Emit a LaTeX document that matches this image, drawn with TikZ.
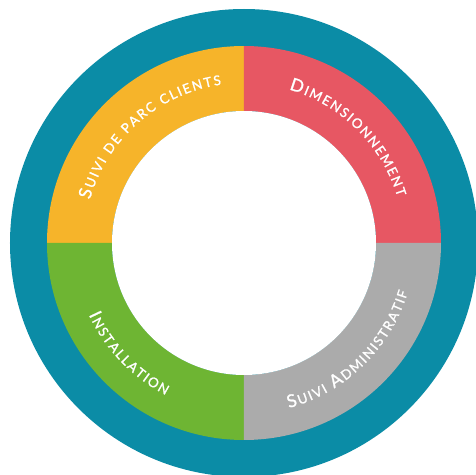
\documentclass[tikz,border=0pt]{standalone}
\usepackage{fontspec}
\newfontfamily\labelfont[FakeBold=1.2]{Lato}
\usetikzlibrary{decorations.text}

\definecolor{ringteal}{HTML}{0B8CA6}
\definecolor{suiviyellow}{HTML}{F6B42A}
\definecolor{dimred}{HTML}{E75763}
\definecolor{admingrey}{HTML}{ABABAB}
\definecolor{installgreen}{HTML}{6EB533}

\newcommand{\bigletter}{\labelfont\fontsize{12.5}{14}\selectfont\kern1.2pt}
\newcommand{\smallletters}{\labelfont\fontsize{9.5}{11}\selectfont\kern1.2pt}

\tikzset{
  arclabel/.style={decorate,decoration={text along path,text align=center,
    text color=white,text={#1}}}
}

\begin{document}
\begin{tikzpicture}[x=0.025cm,y=0.025cm]
  \useasboundingbox (-244,-232) rectangle (232,243);
  \clip (-244,-232) rectangle (232,243);
% Outer ring
  \fill[ringteal] (0,0) circle (234);
% Quarters
  \fill[suiviyellow] (90:197) arc (90:180:197) -- (180:132) arc (180:90:132) -- cycle;
  \fill[dimred] (0:197) arc (0:90:197) -- (90:132) arc (90:0:132) -- cycle;
  \fill[installgreen] (180:197) arc (180:270:197) -- (270:132) arc (270:180:132) -- cycle;
  \fill[admingrey] (270:197) arc (270:360:197) -- (0:132) arc (360:270:132) -- cycle;
% Hole
  \fill[white] (0,0) circle (132);
% Labels, top half (read clockwise)
  \path[arclabel={|\bigletter|S|\smallletters|UIVI DE PARC CLIENTS}]
    (176.5:160) arc (176.5:86.5:160);
  \path[arclabel={|\bigletter|D|\smallletters|IMENSIONNEMENT}]
    (90.5:160) arc (90.5:0.5:160);
% Labels, bottom half (read anticlockwise)
  \path[arclabel={|\bigletter|I|\smallletters|NSTALLATION}]
    (178.5:171) arc (178.5:268.5:171);
  \path[arclabel={|\bigletter|S|\smallletters|UIVI |\bigletter|A|\smallletters|DMINISTRATIF}]
    (269:171) arc (269:359:171);
\end{tikzpicture}
\end{document}
